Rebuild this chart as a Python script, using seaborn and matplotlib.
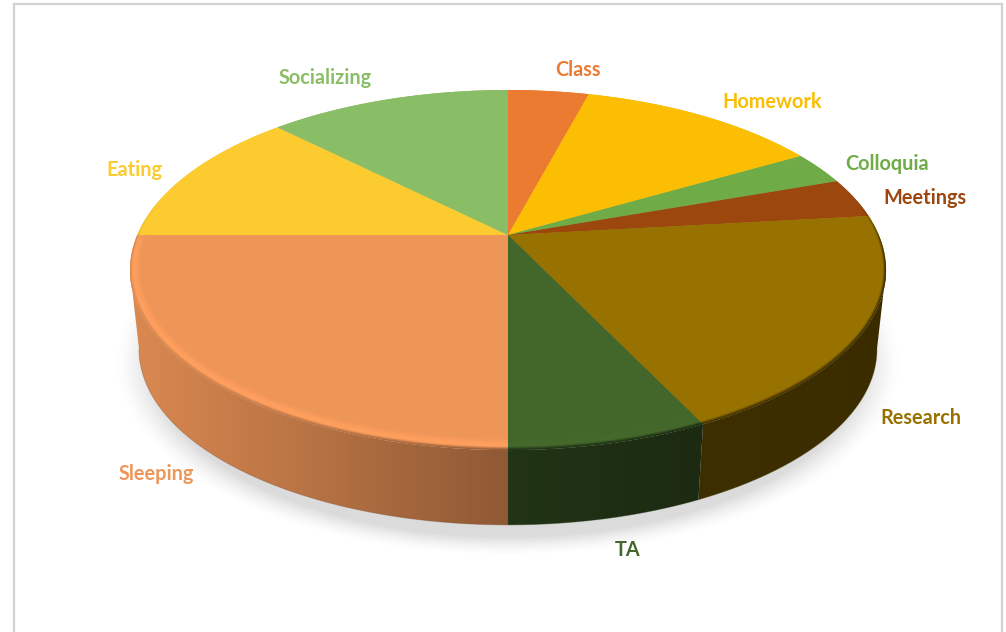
import numpy as np
import matplotlib
matplotlib.use("Agg")
import matplotlib.pyplot as plt
from matplotlib.patches import Polygon
from matplotlib.colors import to_rgb
import seaborn as sns

# Hours spent per week on each activity, clockwise from twelve o'clock
activities = ["Class", "Homework", "Colloquia", "Meetings", "Research",
              "TA", "Sleeping", "Eating", "Socializing"]
hours = [7, 21, 5, 6, 33, 12, 42, 21, 21]
slice_colors = ["#EB7B30", "#FBBE03", "#6FAB46", "#9C470E", "#977200",
                "#43672B", "#EE9558", "#FBCB30", "#8ABE66"]
label_centers = [(578, 68), (772, 100), (887, 163), (925, 196), (921, 417),
                 (628, 549), (156, 473), (134, 168), (325, 77)]
rim_highlight = [1.0, 1.0, 1.0, 1.0, 1.0, 1.02, 1.07, 1.0, 1.0]

sns.set_theme(style="white")
plt.rcParams["font.family"] = ["Lato", "DejaVu Sans"]
palette = sns.color_palette(slice_colors)

W, H = 1006, 632
fig = plt.figure(figsize=(W / 100, H / 100), dpi=100, facecolor="white")
ax = fig.add_axes([0, 0, 1, 1])
ax.set_xlim(0, W)
ax.set_ylim(H, 0)
ax.axis("off")

# Perspective projection of the pie's top and bottom discs onto the page
CX, TOP_Y, A, B, K = 508.0, 235.0, 370.8, 173.2, 0.1946
BOTTOM_SCALE, BOTTOM_Y = 0.976, 315.0


def project(theta, radius=1.0, scale=1.0, y0=TOP_Y):
    u, v = radius * np.sin(theta), radius * np.cos(theta)
    d = 1 + K * v
    return CX + scale * A * u / d, y0 - scale * B * v / d


def smoothstep(a, b, x):
    t = np.clip((x - a) / (b - a), 0, 1)
    return t * t * (3 - 2 * t)


xx, yy = np.meshgrid(np.arange(W) + 0.5, np.arange(H) + 0.5)
extent = (0, W, H, 0)


def wall_shade(x):
    return np.interp(x, [130, 300, 400, 507, 510, 700, 890],
                     [0.92, 0.78, 0.69, 0.60, 0.50, 0.41, 0.39])


# Soft drop shadow under the pie
shadow_r = np.hypot((xx - 508) / 382, (yy - 362) / 188)
shadow = np.zeros((H, W, 4))
shadow[..., :3] = 0.42
shadow[..., 3] = 0.24 * np.clip((1.03 - shadow_r) / 0.10, 0, 1) ** 1.5
ax.imshow(shadow, extent=extent, interpolation="bilinear", aspect="auto", zorder=1)

# Angular limits of every slice
edges = np.radians(np.concatenate([[0], np.cumsum(hours)]) / np.sum(hours) * 360)

# Side walls exist only between the two silhouette tangents of the disc
tan_right = np.arccos(-K)
tan_left = 2 * np.pi - tan_right
for i in range(len(hours)):
    lo, hi = max(edges[i], tan_right), min(edges[i + 1], tan_left)
    if lo >= hi:
        continue
    t = np.linspace(lo, hi, 160)
    tx, ty = project(t)
    bx, by = project(t, scale=BOTTOM_SCALE, y0=BOTTOM_Y)
    poly = Polygon(np.column_stack([np.r_[tx, bx[::-1]], np.r_[ty, by[::-1]]]),
                   closed=True, fc="none", ec="none", zorder=2)
    ax.add_patch(poly)
    rgb = np.array(to_rgb(palette[i]))
    img = np.clip(wall_shade(xx)[..., None] * rgb, 0, 1)
    im = ax.imshow(img, extent=extent, interpolation="nearest", aspect="auto", zorder=2)
    im.set_clip_path(poly)
    ax.plot(bx, by, color=rgb * 0.5, lw=0.7, alpha=0.35, zorder=2.5)

# Disc coordinates for every pixel, used to shade the bevelled rim
dy = TOP_Y - yy
vv = dy / (B - K * dy)
uu = (xx - CX) * (1 + K * vv) / A
rr = np.hypot(uu, vv)
band = 0.03 + 0.026 * vv ** 2
ss = np.clip((1 - rr) / band, 0, 1)
front = 1 - smoothstep(-0.15, 0.25, vv)

# Top face: one flat wedge per slice, with its rim shading clipped to the wedge
for i in range(len(hours)):
    t = np.linspace(edges[i], edges[i + 1], 200)
    ex, ey = project(t)
    wedge = Polygon(np.column_stack([np.r_[CX, ex], np.r_[TOP_Y, ey]]), closed=True,
                    fc=palette[i], ec="none", zorder=3)
    ax.add_patch(wedge)
    rgb = np.array(to_rgb(palette[i]))
    outer = wall_shade(xx)
    peak = rim_highlight[i]
    profile = np.where(ss < 0.3,
                       outer + (peak - outer) * smoothstep(0, 0.3, ss),
                       peak + (1 - peak) * smoothstep(0.3, 1, ss))
    factor = 1 + front * (profile - 1)
    img = np.clip(factor[..., None] * rgb, 0, 1)
    im = ax.imshow(img, extent=extent, interpolation="bilinear", aspect="auto", zorder=3.1)
    im.set_clip_path(wedge)

# Category labels in the colour of their slice
for name, (lx, ly), col in zip(activities, label_centers, palette):
    ax.text(lx, ly + 1.5, name, color=col, fontsize=14.3, fontweight="bold",
            ha="center", va="center", zorder=5)

# Thin grey frame, open at the bottom
ax.plot([14, 14, 1002, 1002], [H, 4, 4, H], color="#D2D2D2", lw=1.6, zorder=6,
        solid_joinstyle="miter")

ax.set_xlim(0, W)
ax.set_ylim(H, 0)
fig.savefig("out.png", dpi=100, facecolor="white")
